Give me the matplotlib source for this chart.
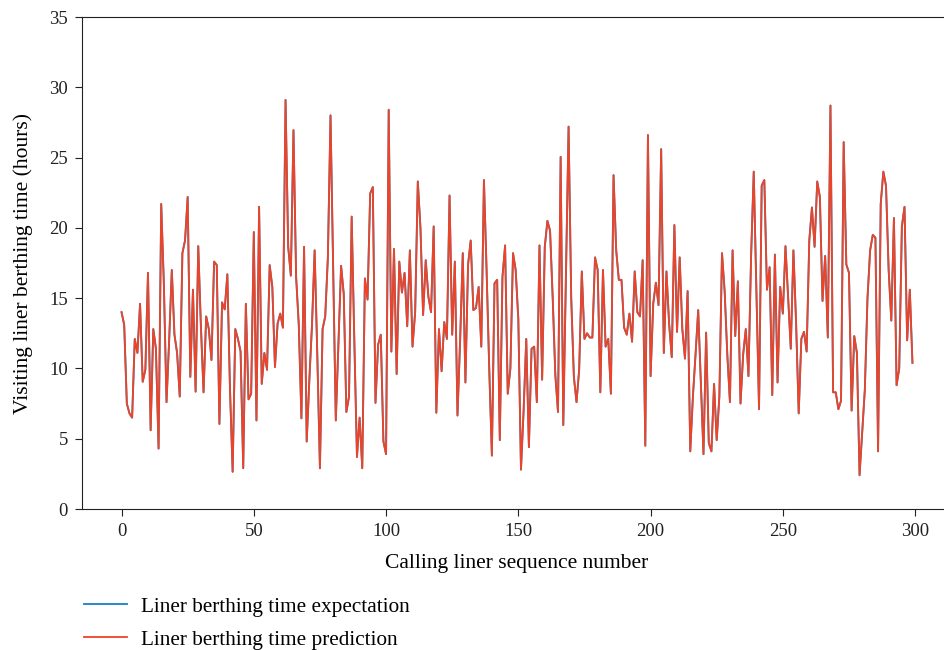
import matplotlib
matplotlib.use("Agg")
import matplotlib.pyplot as plt

plt.rcParams['font.family'] = ['Liberation Serif', 'DejaVu Serif']

# Calling liner sequence number 0..299
expectation = [
    14.0, 13.1, 7.5, 6.8, 6.5, 12.1, 11.1, 14.6, 9.05, 9.9,
    16.8, 5.6, 12.8, 11.4, 4.3, 21.7, 16.0, 7.6, 12.0, 17.0,
    12.4, 11.1, 8.0, 18.2, 19.1, 22.2, 9.4, 15.6, 8.35, 18.7,
    13.0, 8.3, 13.7, 12.8, 10.6, 17.6, 17.35, 6.05, 14.7, 14.2,
    16.7, 8.5, 2.65, 12.8, 12.1, 11.2, 2.9, 14.6, 7.8, 8.2,
    19.7, 6.3, 21.5, 8.9, 11.1, 9.9, 17.35, 15.8, 10.1, 13.2,
    13.9, 12.9, 29.1, 18.65, 16.6, 26.95, 16.5, 13.1, 6.45, 18.65,
    4.8, 9.2, 13.1, 18.4, 11.0, 2.9, 12.8, 13.7, 17.9, 28.0,
    17.0, 6.3, 11.8, 17.3, 15.3, 6.9, 8.0, 20.8, 12.0, 3.7,
    6.5, 2.9, 16.4, 14.9, 22.45, 22.9, 7.55, 11.7, 12.4, 4.8,
    3.9, 28.4, 11.2, 18.5, 9.6, 17.6, 15.4, 16.8, 13.0, 18.4,
    11.55, 14.0, 23.3, 20.0, 13.8, 17.7, 15.1, 14.0, 20.1, 6.85,
    12.8, 9.8, 13.3, 12.1, 22.3, 12.4, 17.6, 6.65, 12.0, 18.2,
    9.0, 17.4, 19.1, 14.15, 14.3, 15.8, 11.55, 23.4, 17.0, 10.0,
    3.8, 16.05, 16.3, 4.9, 16.5, 18.75, 8.2, 10.0, 18.2, 17.0,
    13.5, 2.8, 7.0, 12.1, 4.4, 11.4, 11.55, 7.6, 18.75, 9.2,
    18.65, 20.5, 19.8, 15.0, 9.5, 6.9, 25.05, 5.97, 16.5, 27.2,
    15.0, 9.4, 7.6, 9.9, 16.9, 12.1, 12.5, 12.2, 12.2, 17.9,
    17.0, 8.3, 17.0, 11.55, 12.1, 8.2, 23.75, 18.4, 16.3, 16.3,
    12.9, 12.4, 13.9, 11.9, 16.9, 14.0, 13.7, 17.7, 4.5, 26.6,
    9.45, 14.6, 16.1, 14.5, 25.6, 11.1, 16.9, 13.2, 10.8, 20.2,
    12.6, 17.9, 12.8, 10.7, 15.5, 4.1, 8.0, 11.0, 14.15, 9.0,
    3.9, 12.55, 4.7, 4.1, 8.9, 4.9, 8.0, 18.2, 15.5, 11.0,
    7.6, 18.4, 12.3, 16.2, 7.5, 11.0, 12.8, 9.45, 18.0, 24.0,
    15.5, 7.1, 23.0, 23.4, 15.6, 17.2, 8.1, 18.1, 9.0, 15.8,
    13.9, 18.7, 15.0, 11.4, 18.4, 13.3, 6.8, 12.1, 12.6, 11.2,
    19.1, 21.45, 18.65, 23.3, 22.2, 14.8, 18.0, 12.2, 28.7, 8.3,
    8.3, 7.1, 7.7, 26.1, 17.4, 16.8, 7.0, 12.3, 11.1, 2.4,
    5.5, 8.5, 15.0, 18.4, 19.5, 19.3, 4.1, 21.7, 24.0, 23.0,
    17.0, 13.4, 20.7, 8.8, 10.0, 20.1, 21.5, 12.0, 15.6, 10.4,
]

# Prediction is visually indistinguishable from the expectation at this scale
prediction = [
    14.0, 13.1, 7.5, 6.8, 6.5, 12.1, 11.1, 14.6, 9.05, 9.9,
    16.8, 5.6, 12.8, 11.4, 4.3, 21.7, 16.0, 7.6, 12.0, 17.0,
    12.4, 11.1, 8.0, 18.2, 19.1, 22.2, 9.4, 15.6, 8.35, 18.7,
    13.0, 8.3, 13.7, 12.8, 10.6, 17.6, 17.35, 6.05, 14.7, 14.2,
    16.7, 8.5, 2.65, 12.8, 12.1, 11.2, 2.9, 14.6, 7.8, 8.2,
    19.7, 6.3, 21.5, 8.9, 11.1, 9.9, 17.35, 15.8, 10.1, 13.2,
    13.9, 12.9, 29.1, 18.65, 16.6, 26.95, 16.5, 13.1, 6.45, 18.65,
    4.8, 9.2, 13.1, 18.4, 11.0, 2.9, 12.8, 13.7, 17.9, 28.0,
    17.0, 6.3, 11.8, 17.3, 15.3, 6.9, 8.0, 20.8, 12.0, 3.7,
    6.5, 2.9, 16.4, 14.9, 22.45, 22.9, 7.55, 11.7, 12.4, 4.8,
    3.9, 28.4, 11.2, 18.5, 9.6, 17.6, 15.4, 16.8, 13.0, 18.4,
    11.55, 14.0, 23.3, 20.0, 13.8, 17.7, 15.1, 14.0, 20.1, 6.85,
    12.8, 9.8, 13.3, 12.1, 22.3, 12.4, 17.6, 6.65, 12.0, 18.2,
    9.0, 17.4, 19.1, 14.15, 14.3, 15.8, 11.55, 23.4, 17.0, 10.0,
    3.8, 16.05, 16.3, 4.9, 16.5, 18.75, 8.2, 10.0, 18.2, 17.0,
    13.5, 2.8, 7.0, 12.1, 4.4, 11.4, 11.55, 7.6, 18.75, 9.2,
    18.65, 20.5, 19.8, 15.0, 9.5, 6.9, 25.05, 5.97, 16.5, 27.2,
    15.0, 9.4, 7.6, 9.9, 16.9, 12.1, 12.5, 12.2, 12.2, 17.9,
    17.0, 8.3, 17.0, 11.55, 12.1, 8.2, 23.75, 18.4, 16.3, 16.3,
    12.9, 12.4, 13.9, 11.9, 16.9, 14.0, 13.7, 17.7, 4.5, 26.6,
    9.45, 14.6, 16.1, 14.5, 25.6, 11.1, 16.9, 13.2, 10.8, 20.2,
    12.6, 17.9, 12.8, 10.7, 15.5, 4.1, 8.0, 11.0, 14.15, 9.0,
    3.9, 12.55, 4.7, 4.1, 8.9, 4.9, 8.0, 18.2, 15.5, 11.0,
    7.6, 18.4, 12.3, 16.2, 7.5, 11.0, 12.8, 9.45, 18.0, 24.0,
    15.5, 7.1, 23.0, 23.4, 15.6, 17.2, 8.1, 18.1, 9.0, 15.8,
    13.9, 18.7, 15.0, 11.4, 18.4, 13.3, 6.8, 12.1, 12.6, 11.2,
    19.1, 21.45, 18.65, 23.3, 22.2, 14.8, 18.0, 12.2, 28.7, 8.3,
    8.3, 7.1, 7.7, 26.1, 17.4, 16.8, 7.0, 12.3, 11.1, 2.4,
    5.5, 8.5, 15.0, 18.4, 19.5, 19.3, 4.1, 21.7, 24.0, 23.0,
    17.0, 13.4, 20.7, 8.8, 10.0, 20.1, 21.5, 12.0, 15.6, 10.4,
]

seq = list(range(len(expectation)))
x_ticks = [0, 50, 100, 150, 200, 250, 300]
y_ticks = [0, 5, 10, 15, 20, 25, 30, 35]

W, H = 945, 650
fig = plt.figure(figsize=(W / 100, H / 100), dpi=100)
ax = fig.add_axes([82 / W, (H - 509) / H, 870 / W, 492 / H])

l1, = ax.plot(seq, expectation, color='#1f84c6', lw=1.35)
l2, = ax.plot(seq, prediction, color='#ee4326', lw=1.3)

ax.set_xlim(-14.95, 313.95)
ax.set_ylim(0, 35)
ax.set_xticks(x_ticks)
ax.set_yticks(y_ticks)
ax.tick_params(labelsize=13.5, direction='out', length=5, width=0.8,
               colors='#222222', pad=5)
for s in ax.spines.values():
    s.set_linewidth(0.8)
    s.set_color('#222222')

ax.set_xlabel('Calling liner sequence number', fontsize=15.5, labelpad=10)
ax.set_ylabel('Visiting liner berthing time (hours)', fontsize=15.5, labelpad=12)

fig.legend([l1, l2], ['Liner berthing time expectation', 'Liner berthing time prediction'],
           loc='upper left', bbox_to_anchor=(84 / W, (H - 597) / H), frameon=False,
           fontsize=15.3, handlelength=2.0, handletextpad=0.7, labelspacing=0.6,
           borderaxespad=0, borderpad=0)

fig.savefig('out.png', dpi=100)
